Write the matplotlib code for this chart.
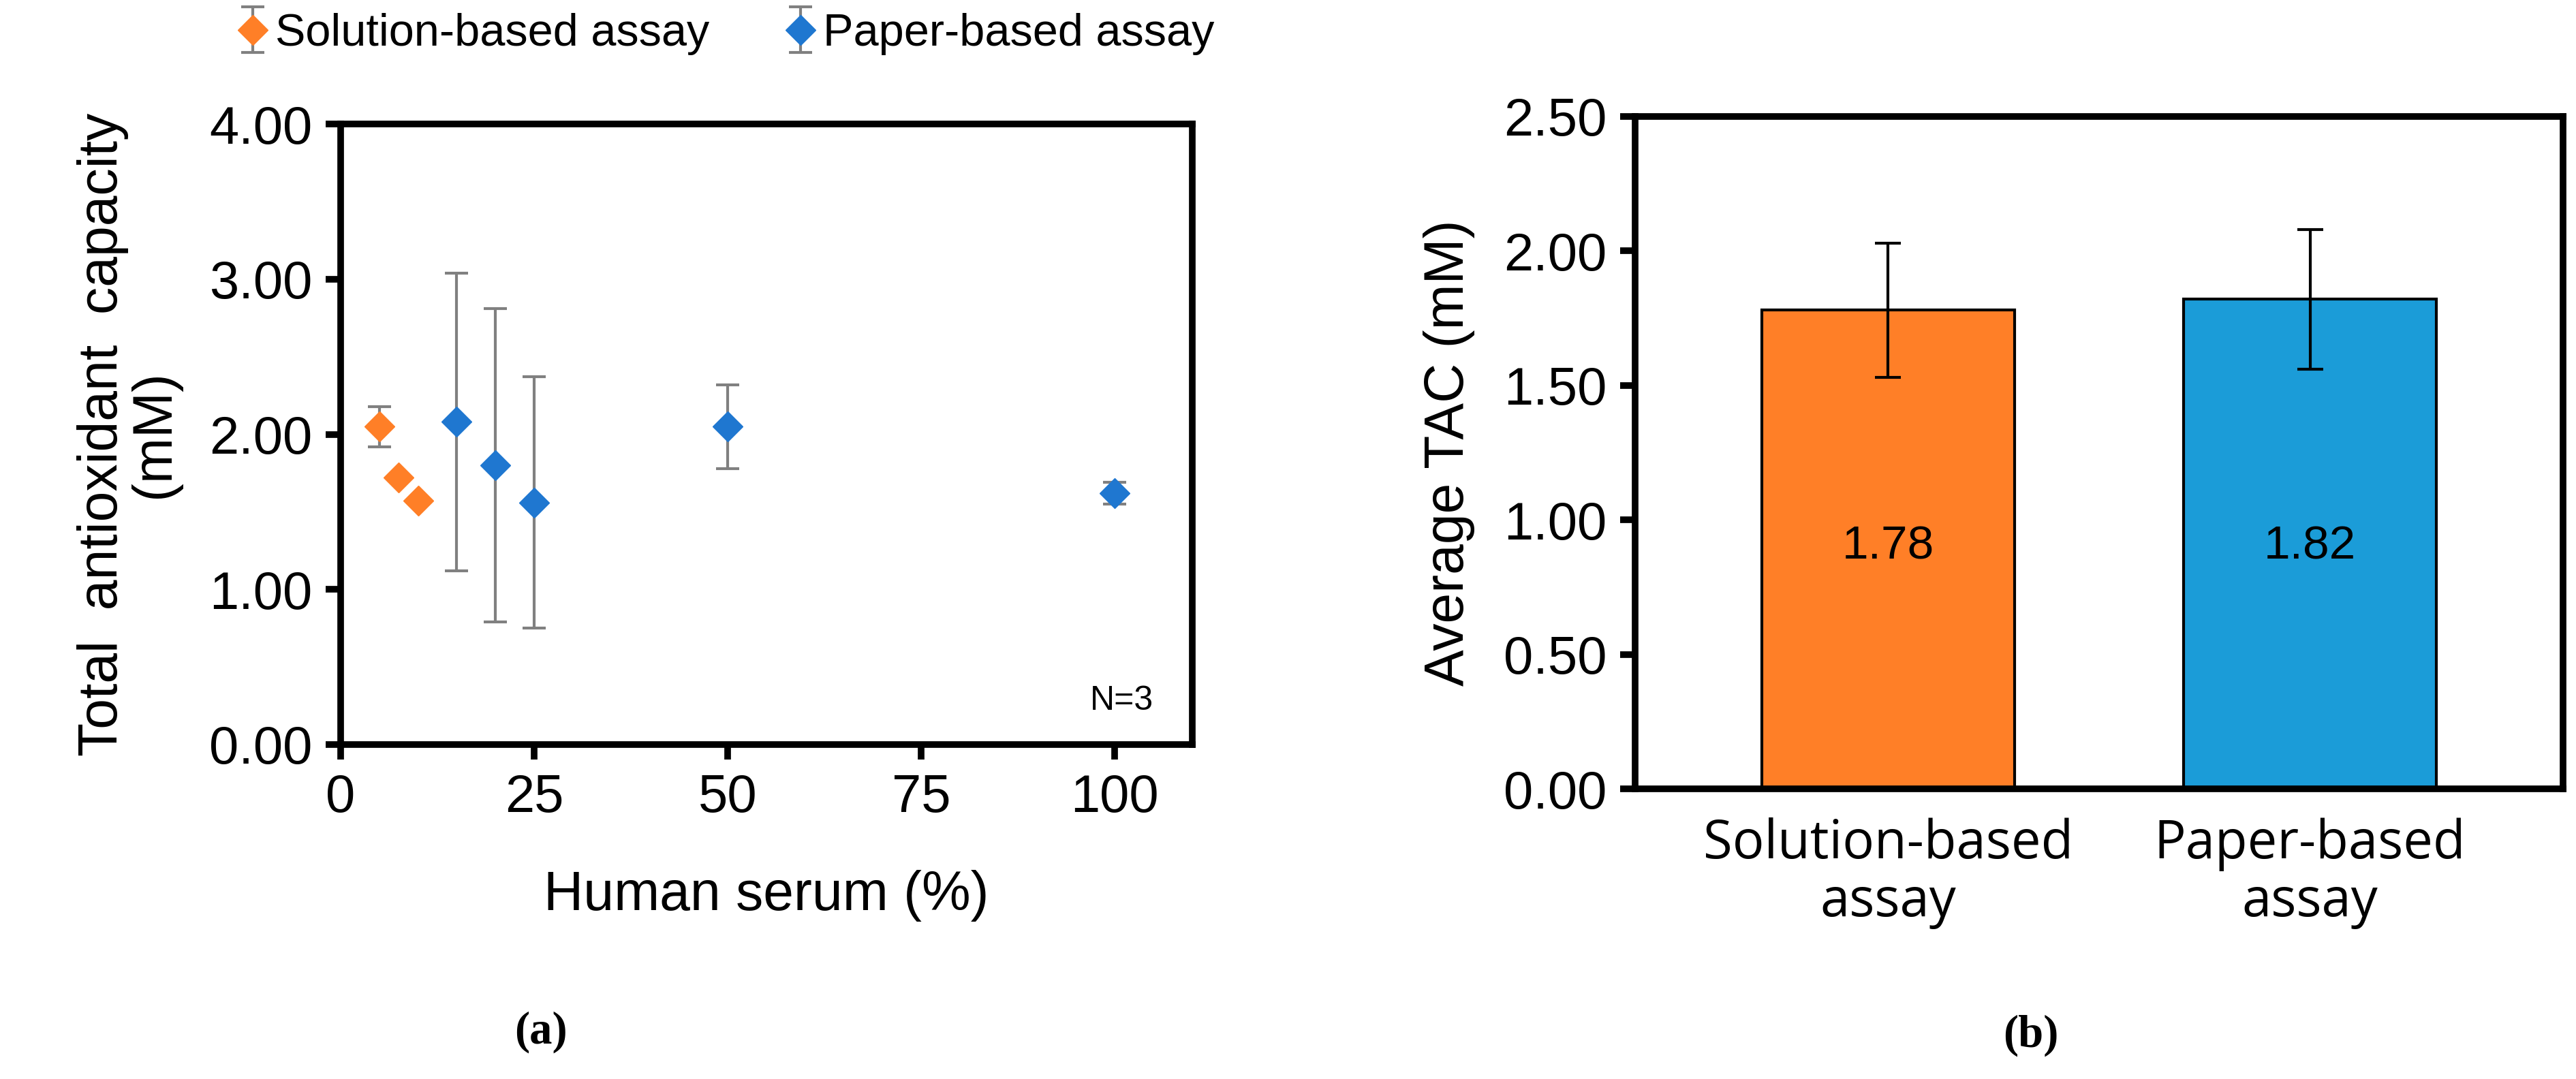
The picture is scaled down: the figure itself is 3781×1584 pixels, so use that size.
import matplotlib
matplotlib.use("Agg")
import matplotlib.pyplot as plt

sol_x = [5, 7.5, 10]
sol_y = [2.05, 1.72, 1.57]
sol_err = [0.13, 0.0, 0.0]
pap_x = [15, 20, 25, 50, 100]
pap_y = [2.08, 1.80, 1.56, 2.05, 1.62]
pap_err = [0.96, 1.01, 0.81, 0.27, 0.07]

bar_labels = ["Solution-based\nassay", "Paper-based\nassay"]
bar_vals = [1.78, 1.82]
bar_err = [0.25, 0.26]

ORANGE = "#FF7F27"
BLUE_PT = "#1F77D0"
BLUE_BAR = "#1B9CD8"

W, H = 3781, 1584
fig = plt.figure(figsize=(W/100, H/100), dpi=100)
plt.rcParams['font.family'] = ['Liberation Sans', 'DejaVu Sans']

# Left panel
ax1 = fig.add_axes([500/W, 1 - 1093/H, 1250/W, (1093-182)/H])
ax1.errorbar(sol_x, sol_y, yerr=sol_err, fmt='D', color=ORANGE, ms=22,
             ecolor='#808080', elinewidth=3, capsize=12, capthick=3,
             label='Solution-based assay', zorder=3)
ax1.errorbar(pap_x, pap_y, yerr=pap_err, fmt='D', color=BLUE_PT, ms=22,
             ecolor='#808080', elinewidth=3, capsize=12, capthick=3,
             label='Paper-based assay', zorder=3)
ax1.set_xlim(0, 110)
ax1.set_ylim(0, 4)
ax1.set_xticks([0, 25, 50, 75, 100])
ax1.set_yticks([0, 1, 2, 3, 4])
ax1.set_yticklabels([f"{v:.2f}" for v in [0, 1, 2, 3, 4]])
ax1.tick_params(labelsize=56, width=7, length=16, direction='out', pad=14)
for s in ax1.spines.values():
    s.set_linewidth(7)
ax1.set_xlabel("Human serum (%)", fontsize=58, labelpad=50)
ax1.set_ylabel("Total  antioxidant  capacity\n(mM)", fontsize=58, labelpad=30,
               linespacing=1.0)
ax1.text(105, 0.28, "N=3", fontsize=36, ha='right', va='center')
h, l = ax1.get_legend_handles_labels()
fig.legend(h, l, loc='center', bbox_to_anchor=(1060/W, 1 - 50/H), ncol=2,
           fontsize=48, frameon=False, handletextpad=0.0, columnspacing=1.5,
           handlelength=1.0)

# Right panel
ax2 = fig.add_axes([2400/W, 1 - 1158/H, (3762-2400)/W, (1158-171)/H])
xs = list(range(len(bar_vals)))
ax2.bar(xs, bar_vals, width=0.6, color=[ORANGE, BLUE_BAR], edgecolor='black',
        linewidth=3, yerr=bar_err, error_kw=dict(ecolor='black', elinewidth=3,
        capsize=14, capthick=3), zorder=2)
for x, v in zip(xs, bar_vals):
    ax2.text(x, 0.9, f"{v:.2f}", fontsize=50, ha='center', va='center')
ax2.set_xlim(-0.6, 1.6)
ax2.set_ylim(0, 2.5)
yt = [0, 0.5, 1.0, 1.5, 2.0, 2.5]
ax2.set_yticks(yt)
ax2.set_yticklabels([f"{v:.2f}" for v in yt])
ax2.set_xticks(xs)
ax2.set_xticklabels(bar_labels, family=['Open Sans', 'DejaVu Sans'],
                    linespacing=1.1)
ax2.tick_params(axis='y', labelsize=56, width=7, length=16, pad=14)
ax2.tick_params(axis='x', labelsize=56, length=0, pad=30)
for s in ax2.spines.values():
    s.set_linewidth(7)
ax2.set_ylabel("Average TAC (mM)", fontsize=58, labelpad=30)

fig.text(794/W, 1 - 1515/H, "(a)", fontsize=48, ha='center', va='center',
         family=['Liberation Serif'], weight='bold')
fig.text(2981/W, 1 - 1520/H, "(b)", fontsize=48, ha='center', va='center',
         family=['Liberation Serif'], weight='bold')

fig.savefig("out.png", dpi=100, facecolor='white')
